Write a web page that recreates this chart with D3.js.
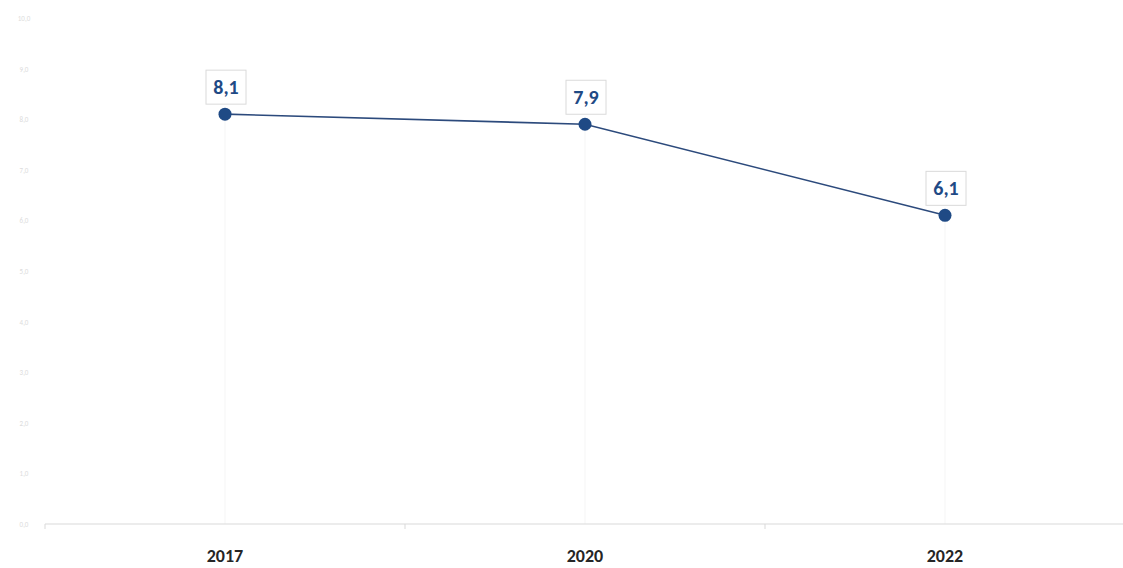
<!DOCTYPE html>
<html>
<head>
<meta charset="utf-8">
<script src="https://cdn.jsdelivr.net/npm/d3@7"></script>
<style>
  body { margin: 0; background: #fff; }
  svg { display: block; font-family: Calibri, Carlito, "Open Sans", sans-serif; }
</style>
</head>
<body>
<div id="chart"></div>
<script>
'use strict'

var width = 1123;
var height = 568;

// data
var years = ['2017', '2020', '2022'];
var values = [8.1, 7.9, 6.1];
var yTicks = [0, 1, 2, 3, 4, 5, 6, 7, 8, 9, 10];

var blue = '#1f4a85';

var svg = d3.select('#chart').append('svg')
  .attr('width', width)
  .attr('height', height);

var xScale = d3.scaleBand()
  .domain(years)
  .range([45, 1125])
  .padding(0);

var yScale = d3.scaleLinear()
  .domain([0, 10])
  .range([524, 18]);

var fmt = function(v){ return d3.format('.1f')(v).replace('.', ','); };

// y tick labels, very faint
svg.append('g').selectAll('text')
  .data(yTicks)
  .enter().append('text')
    .attr('x', 24)
    .attr('y', function(d){ return yScale(d) + 3; })
    .attr('text-anchor', 'middle')
    .attr('font-size', 7)
    .attr('fill', '#dcdcdc')
    .text(fmt);

// vertical drop lines from points
svg.append('g').selectAll('line')
  .data(years)
  .enter().append('line')
    .attr('x1', function(d){ return xScale(d) + xScale.bandwidth()/2; })
    .attr('x2', function(d){ return xScale(d) + xScale.bandwidth()/2; })
    .attr('y1', function(d, i){ return yScale(values[i]); })
    .attr('y2', yScale(0))
    .attr('stroke', '#f5f5f5')
    .attr('stroke-width', 1);

// x axis
var xAxis = svg.append('g')
  .attr('transform', 'translate(0,' + yScale(0) + ')');

xAxis.append('line')
  .attr('x1', 45).attr('x2', 1123)
  .attr('y1', 0).attr('y2', 0)
  .attr('stroke', '#d9d9d9')
  .attr('stroke-width', 1.2);

xAxis.selectAll('line.tick')
  .data(years)
  .enter().append('line')
    .attr('class', 'tick')
    .attr('x1', function(d){ return xScale(d); })
    .attr('x2', function(d){ return xScale(d); })
    .attr('y1', 0).attr('y2', 5)
    .attr('stroke', '#d9d9d9');

xAxis.selectAll('text')
  .data(years)
  .enter().append('text')
    .attr('x', function(d){ return xScale(d) + xScale.bandwidth()/2; })
    .attr('y', 38)
    .attr('text-anchor', 'middle')
    .attr('font-size', 18)
    .attr('font-weight', 'bold')
    .attr('fill', '#262626')
    .text(function(d){ return d; });

// the line
var line = d3.line()
  .x(function(d, i){ return xScale(years[i]) + xScale.bandwidth()/2; })
  .y(function(d){ return yScale(d); });

svg.append('path')
  .datum(values)
  .attr('d', line)
  .attr('fill', 'none')
  .attr('stroke', '#2c4a7c')
  .attr('stroke-width', 1.6);

// markers
svg.append('g').selectAll('circle')
  .data(values)
  .enter().append('circle')
    .attr('cx', function(d, i){ return xScale(years[i]) + xScale.bandwidth()/2; })
    .attr('cy', function(d){ return yScale(d); })
    .attr('r', 6.5)
    .attr('fill', blue);

// data labels with boxes
var labels = svg.append('g').selectAll('g')
  .data(values)
  .enter().append('g')
    .attr('transform', function(d, i){
      return 'translate(' + (xScale(years[i]) + xScale.bandwidth()/2) + ',' + (yScale(d) - 27) + ')';
    });

labels.append('rect')
  .attr('x', -19).attr('y', -17)
  .attr('width', 40).attr('height', 34)
  .attr('fill', '#fff')
  .attr('stroke', '#dadada')
  .attr('stroke-width', 1);

labels.append('text')
  .attr('x', 1)
  .attr('y', 7)
  .attr('text-anchor', 'middle')
  .attr('font-size', 20)
  .attr('font-weight', 'bold')
  .attr('fill', blue)
  .text(fmt);
</script>
</body>
</html>
